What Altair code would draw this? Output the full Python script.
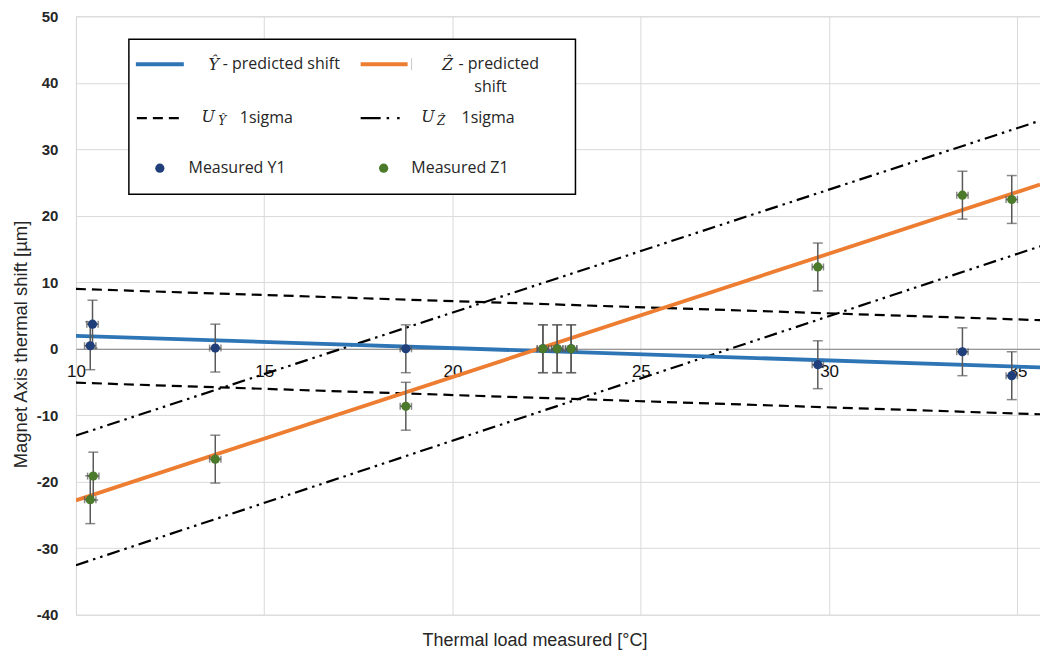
import altair as alt
import pandas as pd

# ---------------- data ----------------
T_MEAS = [10.44, 10.38, 13.70, 18.76, 22.40, 22.78, 23.15, 29.70, 33.54, 34.85]
Y1 = [3.7, 0.45, 0.1, 0.0, 0.0, 0.0, 0.0, -2.4, -0.45, -4.05]
T_MEAS_Z = [10.46, 10.38, 13.70, 18.76, 22.40, 22.78, 23.15, 29.70, 33.54, 34.85]
Z1 = [-19.15, -22.7, -16.6, -8.65, 0.0, 0.0, 0.0, 12.3, 23.1, 22.45]
Y_ERR = 3.6
T_ERR = 0.15

LINE_T = [10.0, 35.6]
Y_HAT = [1.95, -2.8]
Y_UP = [9.0, 4.3]
Y_LO = [-5.1, -9.85]
Z_HAT = [-22.8, 24.7]
Z_UP = [-13.05, 34.3]
Z_LO = [-32.55, 15.4]

X_TICKS = [10, 15, 20, 25, 30, 35]
Y_TICKS = [-40, -30, -20, -10, 0, 10, 20, 30, 40, 50]

BLUE = "#2E75B6"
ORANGE = "#ED7D31"
NAVY = "#203F7A"
GREEN = "#4A7A2A"
ERRC = "#595959"

W, H = 965, 599
ZERO_FROM_BOTTOM = H * 40 / 90

# ---------------- frames ----------------
lines = pd.DataFrame({
    "T": LINE_T * 6,
    "v": Y_HAT + Y_UP + Y_LO + Z_HAT + Z_UP + Z_LO,
    "s": ["yhat"] * 2 + ["yup"] * 2 + ["ylo"] * 2 + ["zhat"] * 2 + ["zup"] * 2 + ["zlo"] * 2,
})
meas = pd.concat([
    pd.DataFrame({"T": T_MEAS, "v": Y1, "g": "Y1"}),
    pd.DataFrame({"T": T_MEAS_Z, "v": Z1, "g": "Z1"}),
], ignore_index=True)
meas["vlo"] = meas["v"] - Y_ERR
meas["vhi"] = meas["v"] + Y_ERR
meas["tlo"] = meas["T"] - T_ERR
meas["thi"] = meas["T"] + T_ERR

xs = alt.Scale(domain=[10, 35.6], nice=False, zero=False)
ys = alt.Scale(domain=[-40, 50], nice=False, zero=False)

x_axis = alt.Axis(
    values=X_TICKS, offset=-ZERO_FROM_BOTTOM, grid=True, gridColor="#D9D9D9", gridWidth=1,
    domain=True, domainColor="#7F7F7F", domainWidth=1.2, ticks=False,
    labelFlush=False, labelFont="Liberation Sans", labelFontSize=17, labelColor="#111111",
    labelPadding=15, title="Thermal load measured [°C]", titleFont="Liberation Sans",
    titleFontSize=18, titleFontWeight="normal", titleColor="#262626",
    titleX=459, titleY=292, titleBaseline="middle", titleAlign="center",
)
y_axis = alt.Axis(
    values=Y_TICKS, grid=True, gridColor="#D9D9D9", gridWidth=1, domain=False,
    ticks=False, labelFont="Liberation Sans", labelFontSize=15, labelFontWeight="bold",
    labelColor="#262626", labelPadding=18,
    labelExpr="datum.value < 0 ? '-' + abs(datum.value) : '' + datum.value",
    title="Magnet Axis thermal shift [µm]",
    titleFont="Liberation Sans", titleFontSize=18.5, titleFontWeight="normal",
    titleColor="#262626", titleX=-55, titleY=328, titleBaseline="middle",
    titleAlign="center", titleAngle=270,
)

base_lines = alt.Chart(lines)


def line_layer(series, color, width, dash=None):
    kw = dict(color=color, strokeWidth=width, clip=True)
    if dash:
        kw["strokeDash"] = dash
    return base_lines.transform_filter(alt.datum.s == series).mark_line(**kw).encode(
        x=alt.X("T:Q", scale=xs, axis=x_axis),
        y=alt.Y("v:Q", scale=ys, axis=y_axis),
    )


DASH = [10, 6]
DASHDOT = [13, 5, 2.5, 5, 2.5, 5]

l_yup = line_layer("yup", "black", 2.2, DASH)
l_ylo = line_layer("ylo", "black", 2.2, DASH)
l_zup = line_layer("zup", "black", 2.2, DASHDOT)
l_zlo = line_layer("zlo", "black", 2.2, DASHDOT)
l_yhat = line_layer("yhat", BLUE, 3.8)
l_zhat = line_layer("zhat", ORANGE, 3.8)

mb = alt.Chart(meas)
vbar = mb.mark_rule(color=ERRC, strokeWidth=1.5).encode(
    x=alt.X("T:Q", scale=xs), y=alt.Y("vlo:Q", scale=ys), y2="vhi:Q")
vcap_lo = mb.mark_tick(color=ERRC, orient="horizontal", size=10, thickness=1.5).encode(
    x=alt.X("T:Q", scale=xs), y=alt.Y("vlo:Q", scale=ys))
vcap_hi = mb.mark_tick(color=ERRC, orient="horizontal", size=10, thickness=1.5).encode(
    x=alt.X("T:Q", scale=xs), y=alt.Y("vhi:Q", scale=ys))
hbar = mb.mark_rule(color=ERRC, strokeWidth=1.5).encode(
    x=alt.X("tlo:Q", scale=xs), x2="thi:Q", y=alt.Y("v:Q", scale=ys))
hcap_lo = mb.mark_tick(color=ERRC, orient="vertical", size=7, thickness=1.5).encode(
    x=alt.X("tlo:Q", scale=xs), y=alt.Y("v:Q", scale=ys))
hcap_hi = mb.mark_tick(color=ERRC, orient="vertical", size=7, thickness=1.5).encode(
    x=alt.X("thi:Q", scale=xs), y=alt.Y("v:Q", scale=ys))
pts = mb.mark_circle(size=85, opacity=1).encode(
    x=alt.X("T:Q", scale=xs), y=alt.Y("v:Q", scale=ys),
    color=alt.Color("g:N", scale=alt.Scale(domain=["Y1", "Z1"], range=[NAVY, GREEN]), legend=None),
    order=alt.Order("g:N"),
)

# ---------------- custom legend (pixel layout) ----------------
one = pd.DataFrame({"a": [0]})
box = alt.Chart(one).mark_rect(fill="white", stroke="black", strokeWidth=1.5).encode(
    x=alt.value(53), x2=alt.value(500), y=alt.value(23), y2=alt.value(178))

leg_lines = pd.DataFrame({
    "x": [60, 285], "x2": [108, 332], "y": [48, 48], "c": [BLUE, ORANGE]})
leg_solid = alt.Chart(leg_lines).mark_rule(strokeWidth=3.8).encode(
    x=alt.X("x:Q", scale=None), x2="x2:Q", y=alt.Y("y:Q", scale=None),
    color=alt.Color("c:N", scale=None))
leg_tick = alt.Chart(one).mark_rule(color="#C8C8C8", strokeWidth=1).encode(
    x=alt.value(336), y=alt.value(42), y2=alt.value(54))
leg_dash = alt.Chart(one).mark_rule(color="black", strokeWidth=2.2, strokeDash=DASH).encode(
    x=alt.value(61), x2=alt.value(107), y=alt.value(102))
leg_dashdot = alt.Chart(one).mark_rule(color="black", strokeWidth=2.2, strokeDash=[20, 6, 2.5, 8, 2.5, 8]).encode(
    x=alt.value(285), x2=alt.value(325), y=alt.value(102))
leg_pts = alt.Chart(pd.DataFrame({"x": [84, 308], "y": [152, 152], "c": [NAVY, GREEN]})).mark_circle(
    size=85, opacity=1).encode(
    x=alt.X("x:Q", scale=None), y=alt.Y("y:Q", scale=None), color=alt.Color("c:N", scale=None))

sans_txt = pd.DataFrame({
    "t": ["- predicted shift", "- predicted", "1sigma", "1sigma", "Measured Y1", "Measured Z1"],
    "x": [147, 383, 164, 386, 112.7, 335.7],
    "y": [48, 48, 102, 102, 152, 152],
})
leg_sans = alt.Chart(sans_txt).mark_text(
    align="left", baseline="middle", font="Open Sans", fontSize=16, color="#262626").encode(
    x=alt.X("x:Q", scale=None), y=alt.Y("y:Q", scale=None), text="t:N")
leg_shift = alt.Chart(pd.DataFrame({"t": ["shift"], "x": [415], "y": [71]})).mark_text(
    align="center", baseline="middle", font="Open Sans", fontSize=16, color="#262626").encode(
    x=alt.X("x:Q", scale=None), y=alt.Y("y:Q", scale=None), text="t:N")
ital_txt = pd.DataFrame({
    "t": ["Ŷ", "Ẑ", "U", "U"],
    "x": [138, 372, 132.5, 352.5],
    "y": [49, 49, 101, 101],
})
leg_ital = alt.Chart(ital_txt).mark_text(
    align="center", baseline="middle", font="DejaVu Serif", fontStyle="italic", fontSize=16,
    color="#262626").encode(
    x=alt.X("x:Q", scale=None), y=alt.Y("y:Q", scale=None), text="t:N")
sub_txt = pd.DataFrame({"t": ["Ŷ", "Ẑ"], "x": [146.5, 365.5], "y": [105, 105]})
leg_sub = alt.Chart(sub_txt).mark_text(
    align="center", baseline="middle", font="DejaVu Serif", fontStyle="italic", fontSize=12,
    color="#262626").encode(
    x=alt.X("x:Q", scale=None), y=alt.Y("y:Q", scale=None), text="t:N")

chart = alt.layer(
    l_yup, l_ylo, l_zup, l_zlo, l_yhat, l_zhat,
    vbar, vcap_lo, vcap_hi, hbar, hcap_lo, hcap_hi, pts,
    box, leg_solid, leg_tick, leg_dash, leg_dashdot, leg_pts,
    leg_sans, leg_shift, leg_ital, leg_sub,
).properties(
    width=W, height=H,
    padding={"left": 4, "top": 1, "right": 0, "bottom": 0},
).configure_view(
    stroke="#404040", strokeWidth=1.5
).configure(background="white")

chart.save("out.html", embed_options={"renderer": "svg", "actions": False})
